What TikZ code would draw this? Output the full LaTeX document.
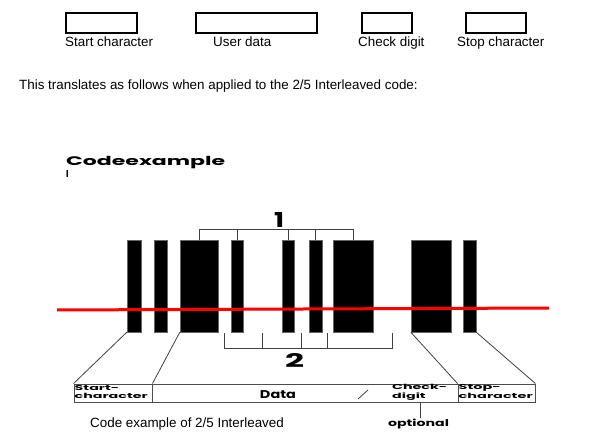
\documentclass[tikz,border=0pt]{standalone}
\usepackage{fontspec}
\setmainfont{Liberation Sans}
\newfontfamily\geo{Poppins}
\usetikzlibrary{calc}
\newcommand\fitto[3]{\resizebox*{#1}{#2}{#3}}
\tikzset{
  bar/.style={fill=black, draw=black!60, line width=0.4pt, inner sep=0pt, minimum height=92pt},
  topbox/.style={draw=black, line width=1.3pt, inner sep=0pt, minimum height=20pt},
  lbl/.style={inner sep=0pt, font=\fontsize{13.4}{16}\selectfont},
  cell/.style={draw=black!70, line width=0.9pt, inner sep=0pt, minimum height=18pt},
  geotext/.style={inner sep=0pt, font=\geo\bfseries},
  thin/.style={draw=black!75, line width=0.8pt},
}
\begin{document}
\begin{tikzpicture}[x=1pt,y=-1pt]
\useasboundingbox[fill=white] (0,0) rectangle (606,444);
% top legend
\node[topbox, minimum width=71pt] (box1) at (101.5,23) {};
\node[topbox, minimum width=121pt] (box2) at (256.5,23) {};
\node[topbox, minimum width=50pt] (box3) at (387,23) {};
\node[topbox, minimum width=60pt] (box4) at (496,23) {};
\node[lbl, anchor=base west] (l1) at (65,47) {Start character};
\node[lbl, anchor=base west] (l2) at (213,47) {User data};
\node[lbl, anchor=base west] (l3) at (358,47) {Check digit};
\node[lbl, anchor=base west] (l4) at (457,47) {Stop character};
\node[lbl, anchor=base west] (intro) at (19,90) {This translates as follows when applied to the 2/5 Interleaved code:};
% heading
\node[geotext, anchor=base west] (code) at (66,165) {\fitto{159pt}{12.5pt}{Codeexample}};
\node[geotext, anchor=north west] (codeI) at (66,170) {\fitto{2.5pt}{7pt}{I}};
% bars
\node[bar, minimum width=14pt] (bar1) at (134,286) {};
\node[bar, minimum width=13pt] (bar2) at (160.5,286) {};
\node[bar, minimum width=38pt] (bar3) at (199,286) {};
\node[bar, minimum width=12pt] (bar4) at (237,286) {};
\node[bar, minimum width=12pt] (bar5) at (288,286) {};
\node[bar, minimum width=13pt] (bar6) at (315.5,286) {};
\node[bar, minimum width=40pt] (bar7) at (353,286) {};
\node[bar, minimum width=40pt] (bar8) at (431,286) {};
\node[bar, minimum width=13pt] (bar9) at (469.5,286) {};
% red scan line
\coordinate (redA) at (57,310);
\coordinate (redB) at (549,308);
\draw[red, line width=3pt] (redA) -- (redB);
% bracket 1 (bars)
\coordinate (t1) at (0,229);
\draw[thin] (bar3.north) -- (bar3.north |- t1) -- (bar7.north |- t1) -- (bar7.north);
\foreach \b in {bar4,bar5,bar6} \draw[thin] (\b.north) -- (\b.north |- t1);
\node[geotext] (one) at (279,220.5) {\fitto{10pt}{15pt}{1}};
% bracket 2 (spaces)
\coordinate (s1) at ($(bar3.south east)!0.5!(bar4.south west)$);
\coordinate (s2) at ($(bar4.south east)!0.5!(bar5.south west)$);
\coordinate (s3) at ($(bar5.south east)!0.5!(bar6.south west)$);
\coordinate (s4) at ($(bar6.south east)!0.5!(bar7.south west)$);
\coordinate (s5) at ($(bar7.south east)!0.5!(bar8.south west)$);
\coordinate (t2) at (0,348);
\draw[thin] ([yshift=-1pt]s1) -- (s1 |- t2) -- (s5 |- t2) -- ([yshift=-1pt]s5);
\foreach \s in {s2,s3,s4} \draw[thin] ([yshift=-1pt]\s) -- (\s |- t2);
\node[geotext] (two) at (294.5,360) {\fitto{19pt}{14pt}{2}};
% table
\node[cell, minimum width=78pt] (startcell) at (113,393) {};
\node[cell, minimum width=306pt] (datacell) at (305,393) {};
\node[cell, minimum width=77pt] (stopcell) at (496.5,393) {};
\node[geotext, anchor=west] (startt) at (74.5,393) {\fitto{73pt}{17pt}{\begin{tabular}{@{}l@{}}Start-\\character\end{tabular}}};
\node[geotext] (datat) at (278,395) {\fitto{36pt}{8pt}{Data}};
\node[geotext, anchor=west] (checkt) at (392,392.5) {\fitto{55pt}{17pt}{\begin{tabular}{@{}l@{}}Check-\\digit\end{tabular}}};
\node[geotext, anchor=west] (stopt) at (458.5,392.5) {\fitto{74pt}{17pt}{\begin{tabular}{@{}l@{}}Stop-\\character\end{tabular}}};
\coordinate (slashA) at (358,399);
\coordinate (slashB) at (368,390);
\draw[thin] (slashA) -- (slashB);
\node[geotext] (opt) at (418.5,423.5) {\fitto{61pt}{10pt}{optional}};
\draw[thin] (opt.north -| 420,0) -- (datacell.south -| 420,0);
% fan lines
\draw[thin] (bar1.south west) -- (startcell.north west);
\draw[thin] (bar3.south west) -- (startcell.north east);
\draw[thin] (bar8.south west) -- (stopcell.north west);
\draw[thin] (bar9.south east) -- (stopcell.north east);
% caption
\node[lbl, anchor=base west] (caption) at (90,427) {Code example of 2/5 Interleaved};
\end{tikzpicture}
\end{document}
